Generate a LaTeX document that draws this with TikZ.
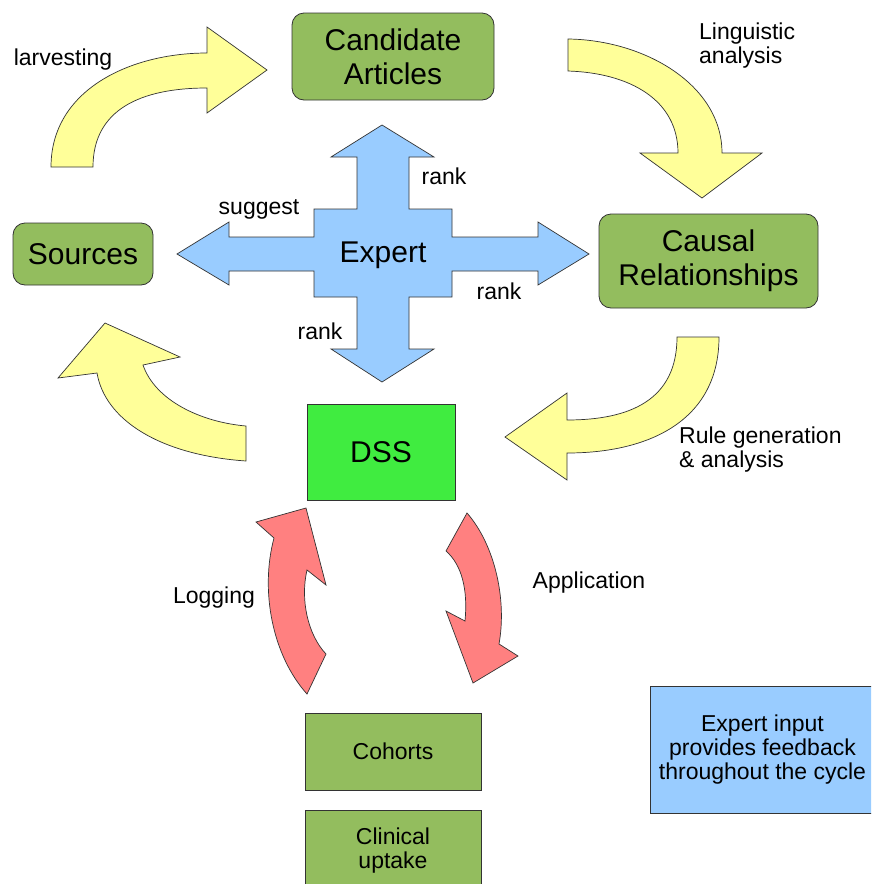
\documentclass[tikz,border=0pt]{standalone}
\usepackage{fontspec}
\setmainfont{Liberation Sans}
\definecolor{boxgreen}{RGB}{147,189,94}
\definecolor{dssgreen}{RGB}{64,236,64}
\definecolor{expblue}{RGB}{153,204,255}
\definecolor{arryellow}{RGB}{255,255,153}
\definecolor{arrred}{RGB}{255,128,128}
\tikzset{
	bigtext/.style={font=\fontsize{30}{34}\selectfont},
	smalltext/.style={font=\fontsize{23}{24}\selectfont},
	rbox/.style={draw=black!80,fill=boxgreen,rounded corners=12,align=center,line width=0.8,bigtext},
	sbox/.style={draw=black!80,fill=boxgreen,align=center,line width=0.8,smalltext},
	lbl/.style={smalltext,inner sep=0,text height=0.75em,text depth=0.2em,yshift=-5pt},
	mlbl/.style={smalltext,inner sep=0,align=left,anchor=west},
	yarrow/.style={fill=arryellow,draw=black!80,line width=0.7},
	rarrow/.style={fill=arrred,draw=black!80,line width=0.7}
}
\begin{document}
\begin{tikzpicture}[x=1pt,y=-1pt]
		\clip (0,0) rectangle (871,884);
		\fill[white] (0,0) rectangle (871,884);
		% boxes
		\node[rbox,minimum width=202,minimum height=87] (cand) at (393,56.5) {Candidate\\Articles};
		\node[rbox,minimum width=140,minimum height=62] (src) at (83,254) {Sources};
		\node[rbox,minimum width=219,minimum height=94] (causal) at (708.5,261) {Causal\\Relationships};
		\node[draw=black!80,fill=dssgreen,line width=0.8,bigtext,minimum width=148,minimum height=96] (dss) at (381,452) {DSS};
		\node[sbox,minimum width=176,minimum height=77] (coh) at (393,751.5) {Cohorts};
		\node[sbox,minimum width=176,minimum height=82] (clin) at (393,851) {Clinical\\uptake};
		\node[sbox,fill=expblue,minimum width=225,minimum height=127] (note) at (762.5,750) {Expert input\\provides feedback\\throughout the cycle};
		% expert cross
		\draw[fill=expblue,draw=black!80,line width=0.7] (382,125)--(434,157)--(409,157)--(409,209)--(452,209)--(452,237)--(538,237)--(538,222)--(589,254)--(538,285)--(538,271)--(452,271)--(452,297)--(409,297)--(409,349)--(434,349)--(382,382)--(331,349)--(357,349)--(357,297)--(314,297)--(314,271)--(229,271)--(229,285)--(177,254)--(229,222)--(229,237)--(314,237)--(314,209)--(357,209)--(357,157)--(331,157)--cycle;
		\node[bigtext] (expert) at (383,255) {Expert};
		% yellow arrows
		\draw[yarrow] (51,167) .. controls (51,90) and (130,53) .. (207,53) -- (207,27) -- (267,70) -- (207,113) -- (207,88) .. controls (140,88) and (93,110) .. (93,167) -- cycle;
		\draw[yarrow] (568,39) .. controls (645,40) and (722,85) .. (722,153) -- (762,153) -- (702,198) -- (640,153) -- (678,153) .. controls (678,100) and (630,73) .. (568,71) -- cycle;
		\draw[yarrow] (719,337) .. controls (719,420) and (650,453) .. (567,453) -- (567,480) -- (505,437) -- (567,393) -- (567,420) .. controls (630,420) and (677,400) .. (677,337) -- cycle;
		\draw[yarrow] (246,461) .. controls (160,455) and (105,420) .. (97,373) -- (58,378) -- (105,323) -- (180,357) -- (143,365) .. controls (155,400) and (200,422) .. (246,426) -- cycle;
		% red arrows
		\draw[rarrow] (307,694) .. controls (272,655) and (260,590) .. (274,538) -- (256,522) -- (306,508) -- (326,585) -- (307,570) .. controls (300,600) and (308,635) .. (326,654) -- cycle;
		\draw[rarrow] (467,513) .. controls (495,545) and (507,600) .. (499,644) -- (518,656) -- (473,683) -- (446,611) -- (465,621) .. controls (468,590) and (462,565) .. (446,551) -- cycle;
		% labels
		\node[lbl] (harv) at (63,58) {larvesting};
		\node[mlbl] (ling) at (699,46) {Linguistic\\analysis};
		\node[mlbl] (rule) at (679,450) {Rule generation\\\& analysis};
		\node[lbl] (sugg) at (259,207) {suggest};
		\node[lbl] (rank1) at (444,177) {rank};
		\node[lbl] (rank2) at (499,292) {rank};
		\node[lbl] (rank3) at (320,332) {rank};
		\node[lbl] (logg) at (214,596) {Logging};
		\node[lbl] (appl) at (589,581) {Application};
		\end{tikzpicture}
\end{document}
